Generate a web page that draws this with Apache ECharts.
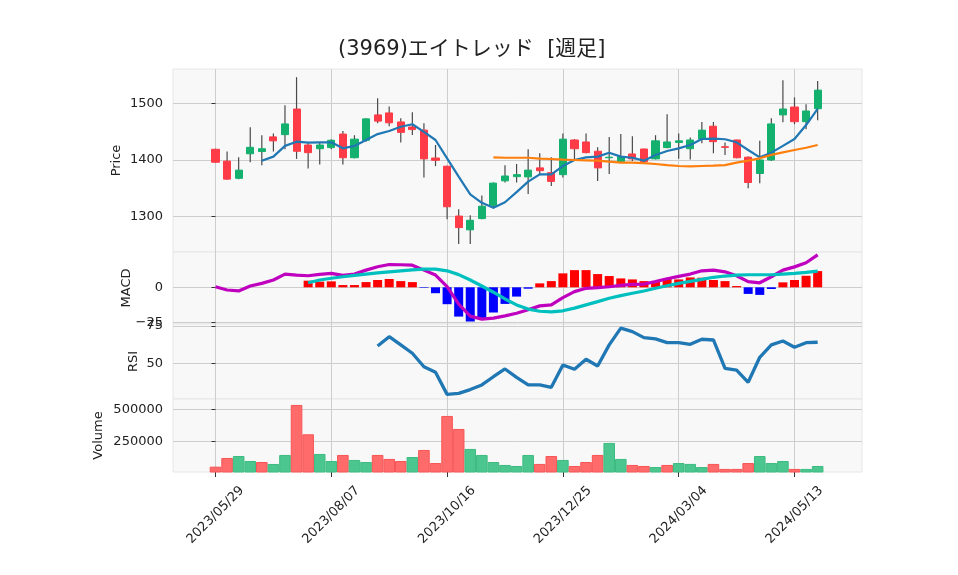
<!DOCTYPE html>
<html><head><meta charset="utf-8">
<script src="https://cdn.jsdelivr.net/npm/echarts@6/dist/echarts.min.js"></script>
<style>html,body{margin:0;padding:0;background:#fff}#c{width:958px;height:575px}</style>
</head><body><div id="c"></div>
<script>
const titleText = '(3969)エイトレッド  [週足]';
const dates = ['2023/05/29','2023/06/05','2023/06/12','2023/06/19','2023/06/26','2023/07/03','2023/07/10','2023/07/17','2023/07/24','2023/07/31','2023/08/07','2023/08/14','2023/08/21','2023/08/28','2023/09/04','2023/09/11','2023/09/18','2023/09/25','2023/10/02','2023/10/09','2023/10/16','2023/10/23','2023/10/30','2023/11/06','2023/11/13','2023/11/20','2023/11/27','2023/12/04','2023/12/11','2023/12/18','2023/12/25','2024/01/01','2024/01/08','2024/01/15','2024/01/22','2024/01/29','2024/02/05','2024/02/12','2024/02/19','2024/02/26','2024/03/04','2024/03/11','2024/03/18','2024/03/25','2024/04/01','2024/04/08','2024/04/15','2024/04/22','2024/04/29','2024/05/06','2024/05/13','2024/05/20','2024/05/27'];
const opens = [1419,1398,1367.5,1411,1415,1441,1445,1490.5,1426.6,1420,1422,1446,1404,1435,1480,1483.5,1467.5,1458.6,1453,1403.5,1389,1300.5,1276,1296,1319.5,1363,1370.4,1370,1386,1377.5,1374,1435.5,1432,1415.5,1404,1397,1410.7,1419.5,1402,1422,1431,1420,1437,1460,1423.5,1435.5,1405,1376,1400,1480,1494,1468,1491];
const closes = [1396,1366,1382,1422.5,1420,1434,1464,1415.5,1413,1426.6,1435,1404,1437,1473,1469,1466,1449,1454,1402,1399.5,1317,1280,1293,1318,1359,1371.6,1374,1382,1381,1362,1437,1420,1413,1386,1405,1406,1402,1397,1434,1432,1434,1435.5,1453,1432.5,1422.5,1404,1360,1400,1464,1490.5,1468,1487,1524];
const lows = [1395,1365,1366,1396,1390.5,1415,1419,1402,1385,1392,1419,1392,1403,1432.5,1465,1460,1431,1444.4,1369,1389,1295,1251,1251,1295,1314,1360,1360,1339.6,1373,1354,1369,1400,1412,1362.7,1375,1396,1398,1396,1401,1421,1402,1401,1429.7,1412,1409,1403,1350,1358.6,1398,1467,1463.4,1454.5,1470.5];
const highs = [1420,1415,1405,1458,1444,1447,1497,1547,1432,1431,1437,1451.5,1444,1474,1509.6,1495,1474,1484.7,1465,1426.6,1390,1312.4,1302,1337,1360,1390.6,1393,1419,1412,1405,1447,1437,1447,1422.5,1441,1446,1442,1420,1444,1481,1447,1440,1467.5,1467.5,1431,1436,1406,1434,1474,1541.5,1511,1499,1540];
const volumes = [51600,119500,135000,96000,88000,72600,143000,533600,304500,150800,96000,143000,104000,88000,143000,112000,96000,127000,182000,80000,447600,346000,190000,143000,88000,65000,57000,143000,73000,135000,104000,57000,88000,143000,237000,112000,65000,57000,49000,65000,80000,73000,49000,73000,34000,34000,80000,135000,80000,96000,34000,34000,57000];
const ma5 = [null,null,null,null,1398.8,1406,1425,1432.5,1430.8,1431.4,1431.4,1420.7,1425,1435.5,1446,1451.5,1459,1463.4,1450,1435.5,1403,1370.4,1339,1324,1315.3,1325,1343,1361.5,1374.6,1374.6,1389.3,1400,1404.7,1406,1413,1406,1404,1398.8,1409,1416,1420.7,1426.6,1437.3,1437.9,1436.8,1431.4,1417.8,1404.7,1413,1425,1437.3,1462,1490.6];
const ma25 = [null,null,null,null,null,null,null,null,null,null,null,null,null,null,null,null,null,null,null,null,null,null,null,null,1404.7,1404,1404,1404,1402.4,1401.8,1400.6,1400,1399.4,1398.8,1397,1395.5,1395.2,1394.6,1392.9,1391,1389.3,1388.7,1389.3,1389.9,1391,1395.2,1398.8,1403,1409,1413.6,1417.8,1421.8,1426.6];
const macdLine = [0.4,-1.9,-2.6,0.9,2.8,5.2,9.4,8.7,8.2,9.2,9.9,8.5,9.4,12.2,14.6,16.2,16.0,15.7,12.2,8.7,0.4,-12,-20.5,-22.6,-21.9,-20.3,-18.4,-16,-13.2,-12.5,-7.3,-3.1,-0.7,-0.3,0.4,1.4,2.1,2.3,4.0,6.1,7.8,9.4,11.7,12.2,11.0,8.2,4.0,3.2,7.5,12.2,14.5,17.4,23];
const macdSignal = [null,null,null,null,null,null,null,null,3.2,5.2,6.4,7.5,8.5,9.4,10.3,11.0,11.7,12.4,12.9,12.9,11.7,9,5.2,0.9,-3.5,-8.3,-12.5,-15.5,-17,-17.4,-16.7,-14.8,-12.5,-10.2,-7.8,-5.9,-4.2,-2.6,-0.7,1.1,2.8,4.2,5.6,7.1,8.0,8.7,8.9,8.9,8.9,9.4,9.9,10.6,11.5];
const macdHist = [null,null,null,null,null,null,null,null,4.7,4.0,4.2,1.6,1.6,3.7,5.2,5.9,4.4,3.7,-0.4,-4.2,-12,-20.8,-24.3,-22,-17.9,-11.8,-6.6,-1.0,2.8,4.4,9.9,12.2,12.2,9.4,8.0,6.3,5.6,4.4,4.0,5.9,5.6,7.0,6.8,5.2,4.4,0.9,-4.7,-5.4,-1.2,3.5,5.2,8.2,11.5];
const rsi = [null,null,null,null,null,null,null,null,null,null,null,null,null,null,61.6,67.8,62.3,56.7,47.7,44.0,29.2,29.9,32.4,35.5,41.0,46.2,40.6,35.5,35.5,33.9,48.9,46.0,52.7,48.2,62.3,73.5,71.2,67.2,66.3,63.8,63.8,62.7,66.1,65.6,46.6,45.5,37.3,54.0,62.3,64.9,60.7,63.8,64.1];
const xTickIdx = [0,10,20,30,40,50];
const priceTicks = [1300,1400,1500];
const macdTicks = [-25,0];
const rsiTicks = [50,75];
const volTicks = [250000,500000];

const FONT = "'DejaVu Sans', 'Noto Sans CJK JP', sans-serif";
const TXT = '#222';
const GRIDC = '#cdcdcd';
const UP = '#13b16d', DOWN = '#fe3b46';
const X_MIN = -3.67, X_MAX = 55.83;

const pairs = arr => arr.map((v, i) => v == null ? null : [i, v]).filter(p => p);

const gridDefs = [[69,183],[252,72],[324,75],[399,73]];
const grid = gridDefs.map(g => ({left:173, right:96, top:g[0], height:g[1], show:true,
  backgroundColor:'#f8f8f8', borderColor:'#e6e6e6', borderWidth:1, containLabel:false, outerBoundsMode:'none'}));

const xAxis = gridDefs.map((g, k) => ({
  type:'value', gridIndex:k, min:X_MIN, max:X_MAX,
  axisLine:{show:false},
  axisTick:{show:k===3, customValues:xTickIdx, length:5, lineStyle:{color:'#333'}},
  axisLabel:{show:k===3, customValues:xTickIdx, rotate:45, align:'center', verticalAlign:'middle', margin:43,
    formatter: v => dates[Math.round(v)] || '', fontSize:13, color:TXT, fontFamily:FONT},
  splitLine:{show:true, lineStyle:{color:GRIDC, width:1}}
}));

function yAx(k, name, gap, min, max, ticks, fmt) {
  return {type:'value', gridIndex:k, min, max, position:'left',
    name, nameLocation:'middle', nameGap:gap, nameMoveOverlap:false,
    nameTextStyle:{fontSize:13, color:TXT, fontFamily:FONT},
    axisLine:{show:false},
    axisTick:{show:true, customValues:ticks, length:4, lineStyle:{color:'#333'}},
    axisLabel:{customValues:ticks, fontSize:13, color:TXT, fontFamily:FONT, margin:10, formatter: fmt || (v => String(v))},
    splitLine:{show:true, lineStyle:{color:GRIDC, width:1}}};
}
const yAxis = [
  yAx(0, 'Price', 50, 1236.7, 1561.5, priceTicks),
  yAx(1, 'MACD', 40, -26.07, 25.07, macdTicks, v => v < 0 ? '\u2212' + Math.abs(v) : String(v)),
  yAx(2, 'RSI', 33, 26.1, 76.3, rsiTicks),
  yAx(3, 'Volume', 68, 10000, 580000, volTicks)
];

const wickData = dates.map((d, i) => [i, lows[i], highs[i]]);
const bodyData = dates.map((d, i) => [i, opens[i], closes[i], Math.min(opens[i], closes[i]), Math.max(opens[i], closes[i])]);
const volData = volumes.map((v, i) => {
  const up = i > 0 && closes[i] >= closes[i-1];
  return {value:[i, v], itemStyle:{color: up ? '#4cc68f' : '#ff6b6b', borderColor: up ? '#3dbb80' : '#f75555', borderWidth:1}};
});
const histData = macdHist.map((v, i) => v == null ? null : {value:[i, v], itemStyle:{color: v >= 0 ? '#ff0000' : '#0000ff'}}).filter(p => p);

function line(data, xi, color, width, z) {
  return {type:'line', xAxisIndex:xi, yAxisIndex:xi, data, showSymbol:false, symbol:'none', z,
    lineStyle:{color, width}, itemStyle:{color}};
}

const option = {
  animation:false,
  backgroundColor:'#ffffff',
  textStyle:{fontFamily:FONT},
  title:{text:titleText, left:333, top:34, textStyle:{fontSize:21, fontWeight:'normal', color:TXT, fontFamily:FONT}},
  grid, xAxis, yAxis,
  series:[
    {type:'custom', xAxisIndex:0, yAxisIndex:0, data:wickData, encode:{x:0, y:[1,2]}, z:1,
      renderItem:(params, api) => {
        const x = api.value(0);
        const p1 = api.coord([x, api.value(1)]);
        const p2 = api.coord([x, api.value(2)]);
        return {type:'line', shape:{x1:p1[0], y1:p1[1], x2:p2[0], y2:p2[1]}, style:{stroke:'#4a4a4a', lineWidth:1.2}};
      }},
    {type:'candlestick', xAxisIndex:0, yAxisIndex:0, data:bodyData, barWidth:7.6, z:2,
      itemStyle:{color:UP, color0:DOWN, borderColor:UP, borderColor0:DOWN, borderWidth:1}},
    line(pairs(ma5), 0, '#1f77b4', 2.2, 3),
    line(pairs(ma25), 0, '#ff7f0e', 2.2, 3),
    {type:'bar', xAxisIndex:1, yAxisIndex:1, data:histData, barWidth:9, z:1},
    line(pairs(macdLine), 1, '#bf00bf', 3.2, 3),
    line(pairs(macdSignal), 1, '#00bfbf', 3.2, 3),
    line(pairs(rsi), 2, '#1f77b4', 3.3, 3),
    {type:'bar', xAxisIndex:3, yAxisIndex:3, data:volData, barWidth:11.58, z:1}
  ]
};
const chart = echarts.init(document.getElementById('c'), null, {renderer:'canvas', width:958, height:575});
chart.setOption(option);
</script></body></html>
